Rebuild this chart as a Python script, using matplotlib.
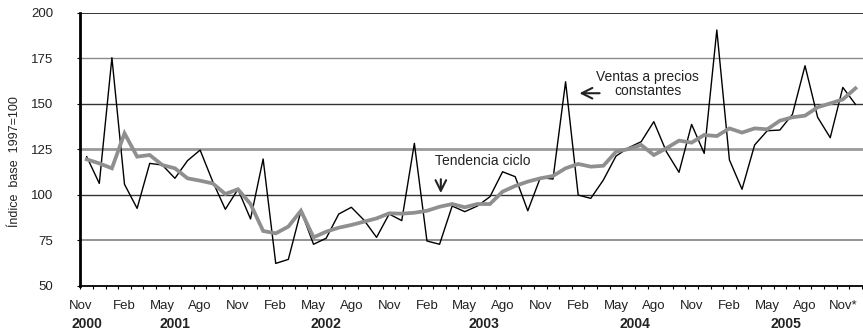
import matplotlib

matplotlib.use("Agg")
import matplotlib.pyplot as plt
import matplotlib.transforms as mtransforms
import numpy as np

# Monthly series, Nov 2000 onwards (index base 1997=100)
VENTAS = [
    121.0, 106.3, 175.3, 105.8, 92.6, 117.3, 116.4, 109.1, 118.8, 124.6,
    107.3, 92.1, 103.1, 86.8, 119.7, 62.4, 64.6, 91.3, 72.9, 76.2,
    89.5, 93.2, 86.2, 76.7, 89.5, 85.9, 128.3, 74.7, 72.9, 93.9,
    90.8, 93.9, 99.0, 112.7, 110.0, 91.3, 109.5, 108.7, 162.1, 99.9,
    98.1, 108.2, 121.3, 125.9, 129.2, 140.2, 123.7, 112.4, 138.7, 122.8,
    190.5, 119.2, 103.1, 127.4, 135.2, 135.6, 144.2, 170.9, 142.6, 131.4,
    159.0, 149.7,
]
TENDENCIA = [
    119.5, 117.3, 114.6, 133.8, 121.0, 121.9, 116.4, 114.6, 109.1, 107.8,
    106.3, 100.5, 103.1, 95.0, 80.2, 78.9, 82.6, 91.3, 76.7, 79.8,
    82.0, 83.5, 85.3, 87.1, 89.9, 89.7, 90.2, 91.3, 93.5, 95.0,
    93.2, 95.0, 95.0, 101.8, 104.9, 107.3, 109.1, 110.4, 114.6, 117.0,
    115.5, 116.0, 123.7, 125.2, 127.4, 121.9, 125.6, 129.8, 128.7, 132.9,
    132.3, 136.5, 134.2, 136.5, 136.0, 140.7, 142.6, 143.5, 148.1, 150.2,
    152.4, 158.5,
]
MONTH_LABELS = ["Nov", "Feb", "May", "Ago"] * 5 + ["Nov*"]
MONTH_POS = list(range(0, 61, 3))
YEAR_LABELS = ["2000", "2001", "2002", "2003", "2004", "2005"]
YEAR_POS = [0, 7, 19, 31.5, 43.5, 55.5]
Y_TICKS = [50, 75, 100, 125, 150, 175, 200]

# gridline look per level (colour, width)
GRID_STYLE = {
    75: ("#8a8a8a", 1.3),
    100: ("#333333", 1.0),
    125: ("#9a9a9a", 2.0),
    150: ("#333333", 1.0),
    175: ("#8a8a8a", 1.0),
    200: ("#111111", 1.2),
}

TEXT_COLOR = "#222222"
FONT = "Liberation Sans"
W, H, DPI = 863, 336, 100

ARROW = dict(arrowstyle="->", lw=1.5, color=TEXT_COLOR,
             mutation_scale=19, shrinkA=0, shrinkB=0)


def main():
    plt.rcParams["font.family"] = FONT

    fig = plt.figure(figsize=(W / DPI, H / DPI), dpi=DPI)
    ax = fig.add_axes([80.4 / W, 50 / H, (W - 80.4) / W, 273.3 / H])

    x = np.arange(len(VENTAS))

    for level, (color, lw) in GRID_STYLE.items():
        ax.axhline(level, color=color, lw=lw, zorder=1)

    ax.plot(x, VENTAS, color="black", lw=1.0, zorder=3)
    ax.plot(x, TENDENCIA, color="#8f8f8f", lw=2.7, zorder=4,
            solid_joinstyle="miter")

    ax.set_xlim(-0.5, 61.6)
    ax.set_ylim(50, 200)

    for side in ("right", "top"):
        ax.spines[side].set_visible(False)
    ax.spines["left"].set_linewidth(2.0)
    ax.spines["bottom"].set_linewidth(1.3)

    ax.set_yticks(Y_TICKS)
    ax.tick_params(axis="y", length=2.2, width=0.8, pad=17.5,
                   labelsize=9.5, labelcolor=TEXT_COLOR)

    # month ticks sit between the categories, labels are drawn as text
    ax.set_xticks([])
    ax.set_xticks(np.arange(-0.5, len(VENTAS), 1.0), minor=True)
    ax.tick_params(axis="x", which="minor", length=2.2, width=0.8)

    trans = mtransforms.blended_transform_factory(ax.transData, ax.transAxes)
    for i, (pos, lab) in enumerate(zip(MONTH_POS, MONTH_LABELS)):
        shift = -0.45 if i == 0 else 0.0
        ax.text(pos + shift, -0.075, lab, transform=trans, ha="center",
                va="center", fontsize=9.5, color=TEXT_COLOR, clip_on=False)
    for pos, lab in zip(YEAR_POS, YEAR_LABELS):
        ax.text(pos, -0.138, lab, transform=trans, ha="center", va="center",
                fontsize=10, fontweight="bold", color=TEXT_COLOR, clip_on=False)

    fig.text(15 / W, 0.518, "Índice  base  1997=100", rotation=90,
             ha="center", va="center", fontsize=9, color=TEXT_COLOR)

    # series annotations
    ax.text(27.6, 118.6, "Tendencia ciclo", ha="left", va="center",
            fontsize=10, color=TEXT_COLOR)
    ax.annotate("", xy=(28.1, 101.0), xytext=(28.1, 108.6), arrowprops=ARROW)
    ax.text(44.5, 160.8, "Ventas a precios\nconstantes", ha="center",
            va="center", fontsize=10, color=TEXT_COLOR, linespacing=1.05)
    ax.annotate("", xy=(39.1, 155.8), xytext=(40.7, 155.8), arrowprops=ARROW)

    fig.savefig("out.png", dpi=DPI)
    plt.close(fig)


if __name__ == "__main__":
    main()
